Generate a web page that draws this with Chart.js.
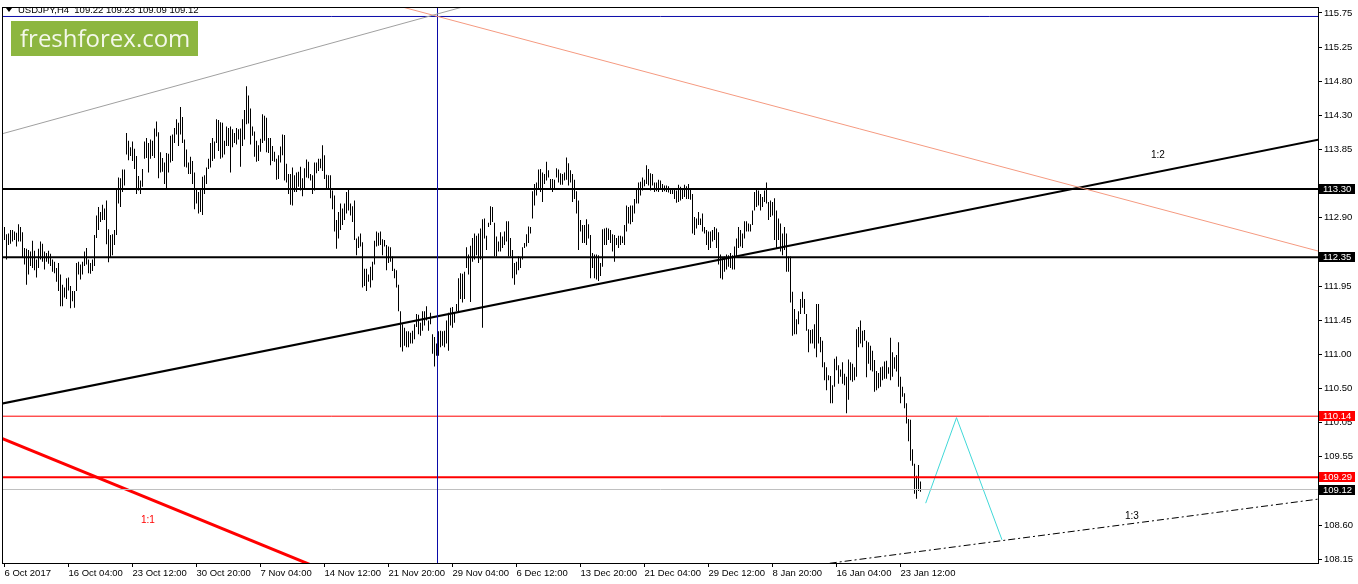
<!DOCTYPE html>
<html><head><meta charset="utf-8">
<script src="https://cdn.jsdelivr.net/npm/chart.js@4.4.1/dist/chart.umd.min.js"></script>
<style>html,body{margin:0;padding:0;background:#fff;overflow:hidden}#wrap{width:1358px;height:584px;position:relative}</style>
</head><body><div id="wrap"><canvas id="c" width="1358" height="584"></canvas></div>
<script>
// ---- bar highs (H4, index 0 = first bar) ----
const highs = [
112.77,112.67,112.68,112.73,112.73,112.71,112.69,112.81,112.77,112.70,
112.48,112.47,112.45,112.43,112.58,112.44,112.32,112.47,112.57,112.54,
112.43,112.41,112.44,112.40,112.32,112.29,112.20,112.27,112.11,111.97,
111.93,112.06,112.07,111.95,111.88,111.88,112.27,112.29,112.25,112.29,
112.43,112.48,112.32,112.27,112.32,112.66,112.93,113.05,112.98,113.08,
113.03,113.14,112.74,112.66,112.67,112.73,113.30,113.46,113.45,113.57,
113.57,114.08,113.97,113.88,113.96,113.86,113.76,113.48,113.42,113.58,
113.96,114.01,113.94,113.99,113.97,114.14,114.24,114.09,113.81,113.73,
113.67,113.80,113.79,114.04,114.06,114.15,114.27,114.22,114.44,114.30,
113.99,113.85,113.67,113.75,113.69,113.53,113.30,113.26,113.29,113.47,
113.49,113.60,113.72,113.94,114.01,113.96,114.27,114.26,114.23,114.22,
113.97,114.17,114.15,114.17,114.13,114.08,114.15,114.13,114.14,114.27,
114.40,114.73,114.60,114.42,114.17,114.10,113.97,113.91,114.00,114.34,
114.32,114.29,114.01,114.01,113.90,113.82,113.72,113.77,113.89,114.06,
114.05,113.65,113.51,113.51,113.60,113.49,113.53,113.54,113.61,113.45,
113.59,113.71,113.68,113.51,113.49,113.67,113.67,113.72,113.72,113.91,
113.77,113.50,113.49,113.49,113.28,113.21,112.87,112.98,113.10,113.03,
113.10,113.26,113.30,113.10,113.06,113.14,112.61,112.64,112.68,112.56,
112.19,112.19,112.11,112.22,112.29,112.58,112.71,112.69,112.71,112.60,
112.59,112.52,112.50,112.49,112.36,112.19,112.17,111.97,111.60,111.42,
111.37,111.32,111.32,111.30,111.33,111.42,111.56,111.55,111.44,111.60,
111.60,111.67,111.47,111.58,111.28,111.24,111.15,111.32,111.33,111.32,
111.33,111.47,111.58,111.65,111.66,111.58,111.70,112.06,112.13,112.12,
112.15,112.49,112.39,112.51,112.62,112.68,112.65,112.68,112.75,112.88,
112.89,112.65,112.83,113.06,113.05,112.83,112.64,112.57,112.70,112.64,
112.71,112.85,112.85,112.62,112.45,112.27,112.29,112.36,112.34,112.49,
112.55,112.67,112.78,112.77,113.27,113.37,113.39,113.57,113.58,113.53,
113.51,113.68,113.56,113.44,113.44,113.43,113.59,113.57,113.52,113.51,
113.53,113.74,113.66,113.56,113.51,113.43,113.27,113.14,112.87,112.80,
112.80,112.88,112.81,112.66,112.41,112.39,112.39,112.38,112.27,112.74,
112.75,112.76,112.75,112.73,112.67,112.66,112.62,112.65,112.65,112.64,
112.80,113.07,113.05,113.07,113.07,113.16,113.29,113.39,113.40,113.46,
113.43,113.63,113.58,113.52,113.51,113.39,113.39,113.43,113.42,113.37,
113.35,113.35,113.34,113.31,113.31,113.30,113.28,113.36,113.33,113.31,
113.36,113.34,113.37,113.30,113.23,112.91,112.89,112.98,112.89,112.96,
112.77,112.73,112.71,112.71,112.73,112.77,112.75,112.70,112.39,112.34,
112.36,112.39,112.38,112.41,112.38,112.50,112.61,112.77,112.73,112.68,
112.85,112.85,112.82,112.81,113.00,113.26,113.30,113.28,113.23,113.19,
113.28,113.39,113.12,113.14,113.12,113.17,113.00,112.89,112.82,112.68,
112.77,112.68,112.36,112.36,111.87,111.63,111.49,111.60,111.77,111.87,
111.77,111.56,111.35,111.34,111.35,111.42,111.70,111.70,111.24,111.19,
110.89,110.82,110.71,110.70,110.57,110.94,110.97,110.85,110.79,110.89,
110.73,110.69,110.93,110.89,110.87,110.82,111.35,111.38,111.47,111.33,
111.34,111.19,111.17,111.12,111.05,110.92,110.77,110.74,110.82,110.83,
110.90,110.91,110.82,111.23,111.03,110.96,110.99,111.17,110.69,110.55,
110.46,110.32,110.10,110.09,109.68,109.48,109.31,109.46,109.23
];
// ---- bar lows ----
const lows = [
112.59,112.32,112.52,112.54,112.57,112.59,112.50,112.57,112.57,112.34,
112.25,111.97,112.11,112.23,112.20,112.17,112.07,112.20,112.32,112.29,
112.18,112.29,112.26,112.23,112.15,112.13,112.01,111.88,111.67,111.67,
111.79,111.77,111.89,111.64,111.74,111.65,111.88,112.11,112.04,112.11,
112.23,112.25,112.13,112.12,112.16,112.23,112.62,112.73,112.84,112.87,
112.87,112.53,112.28,112.34,112.38,112.52,112.66,113.10,113.05,113.26,
113.35,113.78,113.70,113.76,113.69,113.58,113.23,113.28,113.23,113.33,
113.72,113.73,113.53,113.72,113.76,113.73,114.03,113.45,113.53,113.54,
113.37,113.31,113.53,113.67,113.69,113.94,114.06,113.90,114.06,113.94,
113.61,113.60,113.51,113.51,113.37,113.02,113.10,112.96,112.98,112.94,
113.23,113.37,113.58,113.60,113.69,113.72,113.94,113.83,113.72,113.74,
113.78,113.90,113.90,113.53,113.88,113.94,113.92,113.99,113.61,113.90,
113.99,114.20,114.21,113.92,114.04,113.75,113.68,113.69,113.82,113.94,
113.97,113.81,113.80,113.63,113.69,113.68,113.43,113.44,113.67,113.77,
113.42,113.39,113.23,113.08,113.07,113.26,113.26,113.33,113.28,113.20,
113.30,113.46,113.45,113.42,113.23,113.28,113.52,113.55,113.59,113.55,
113.44,113.30,113.30,113.17,113.02,112.71,112.47,112.61,112.73,112.80,
112.87,112.96,113.00,112.93,112.84,112.59,112.38,112.48,112.50,111.93,
111.95,111.88,112.01,111.93,112.03,112.25,112.50,112.51,112.52,112.38,
112.50,112.17,112.27,112.29,112.16,112.06,111.93,111.60,111.10,111.04,
111.12,111.10,111.10,111.15,111.15,111.21,111.38,111.28,111.26,111.33,
111.40,111.47,111.33,111.42,111.01,110.83,110.98,110.98,111.10,111.12,
111.10,111.15,111.05,111.40,111.37,111.44,111.60,111.58,111.77,111.72,
111.77,112.20,112.11,111.73,112.29,112.32,112.38,112.27,112.32,111.37,
112.61,112.45,112.77,112.80,112.84,112.36,112.36,112.43,112.43,112.48,
112.52,112.57,112.36,112.36,112.06,111.97,112.11,112.17,112.20,112.32,
112.48,112.50,112.55,112.68,112.89,113.07,113.21,113.31,113.26,113.12,
113.37,113.42,113.46,113.31,113.26,113.30,113.46,113.39,113.36,113.36,
113.42,113.43,113.35,113.39,113.12,113.16,112.96,112.45,112.71,112.55,
112.55,112.52,112.61,112.06,112.20,112.06,112.04,112.02,112.09,112.22,
112.52,112.52,112.59,112.55,112.43,112.29,112.52,112.48,112.52,112.55,
112.52,112.71,112.82,112.81,112.84,112.96,113.10,113.10,113.21,113.28,
113.34,113.37,113.35,113.28,113.35,113.26,113.27,113.26,113.30,113.26,
113.27,113.26,113.25,113.23,113.23,113.16,113.11,113.12,113.14,113.16,
113.19,113.16,113.16,113.15,112.68,112.66,112.75,112.80,112.80,112.71,
112.68,112.52,112.45,112.48,112.57,112.59,112.48,112.25,112.06,112.04,
112.15,112.18,112.22,112.20,112.18,112.18,112.34,112.48,112.50,112.48,
112.61,112.71,112.71,112.71,112.80,113.00,113.05,113.07,113.00,113.05,
113.12,113.10,112.87,112.91,112.93,112.59,112.48,112.59,112.43,112.38,
112.45,112.15,112.15,111.72,111.26,111.28,111.28,111.42,111.56,111.65,
111.56,111.33,111.03,111.15,111.15,111.08,110.96,111.15,111.03,110.82,
110.64,110.50,110.64,110.32,110.32,110.55,110.78,110.59,110.69,110.59,
110.57,110.18,110.37,110.64,110.62,110.64,110.69,111.10,111.15,111.10,
111.19,110.68,110.87,110.78,110.76,110.48,110.50,110.53,110.55,110.64,
110.66,110.66,110.73,110.64,110.69,110.80,110.76,110.55,110.32,110.41,
110.25,110.04,109.79,109.52,109.45,109.06,108.99,109.10,109.09
];
// ---- axis ticks ----
const xTickIndex = [0,32,64,96,128,160,192,224,256,288,320,352,384,416,448];
const xTickLabels = ['6 Oct 2017','16 Oct 04:00','23 Oct 12:00','30 Oct 20:00','7 Nov 04:00','14 Nov 12:00','21 Nov 20:00','29 Nov 04:00','6 Dec 12:00','13 Dec 20:00','21 Dec 04:00','29 Dec 12:00','8 Jan 20:00','16 Jan 04:00','23 Jan 12:00'];
const yTickValues = [115.75,115.275,114.80,114.325,113.85,112.90,111.95,111.475,111.00,110.525,110.05,109.575,108.625,108.15];
const yTickLabels = ['115.75','115.25','114.80','114.30','113.85','112.90','111.95','111.45','111.00','110.50','110.05','109.55','108.60','108.15'];
const yMin = 108.098, yMax = 115.822;
const xMin = -0.75, xMax = 656.75;
// ---- horizontal levels ----
const levelBlack = [113.30, 112.35];
const levelRedThin = 110.14;
const levelRedThick = 109.29;
const bidLevel = 109.12;
const blueLevel = 115.70;
const blueVerticalIdx = 216.5;
// ---- trend lines [barIndex, price] ----
const grayLine = [[-2.25,114.06],[232.75,115.86]];
const salmonLine = [[197.75,115.84],[657.75,112.43]];
const blackTrend = [[-2.25,110.31],[657.75,113.99]];
const redTrend = [[-2.25,109.84],[157.75,108.02]];
const dashTrend = [[397.75,108.04],[657.75,108.99]];
const cyanPath = [[460.6,108.93],[476.0,110.12],[498.75,108.42]];
// ---- text notes ----
const noteTexts = ['1:2','1:3','1:1'];
const noteIdx = [573.25,560.25,68.25];
const notePrice = [113.77,108.745,108.69];
// ---- right price tags ----
const tagValues = [113.30,112.35,110.14,109.29,109.12];
const tagLabels = ['113.30','112.35','110.14','109.29','109.12'];
const header = 'USDJPY,H4  109.22 109.23 109.09 109.12';

const FONT = 'Liberation Sans, Arial, sans-serif';
const FS = 9.5;
const pts = a => a.map(p => ({x:p[0], y:p[1]}));
const hline = v => [{x:xMin-2,y:v},{x:xMax+2,y:v}];
function lineDs(data, color, width, extra){
  return Object.assign({type:'line', data, borderColor:color, borderWidth:width, pointRadius:0, fill:false, tension:0, clip:0, order:1}, extra||{});
}
const datasets = [
  lineDs(pts(grayLine), '#a0a0a0', 1),
  lineDs(pts(salmonLine), '#f59a80', 1),
  lineDs(hline(blueLevel), '#0a0aa8', 1),
  lineDs([{x:blueVerticalIdx,y:yMin-1},{x:blueVerticalIdx,y:yMax+1}], '#0a0aa8', 1),
  lineDs(hline(bidLevel), '#c0c0c0', 1),
  lineDs(hline(levelBlack[0]), '#000', 2),
  lineDs(hline(levelBlack[1]), '#000', 2),
  lineDs(hline(levelRedThin), '#ff0000', 1),
  lineDs(hline(levelRedThick), '#ff0000', 2),
  lineDs(pts(blackTrend), '#000', 2),
  lineDs(pts(redTrend), '#ff0000', 3),
  lineDs(pts(dashTrend), '#000', 1, {borderDash:[7,3,2,3]}),
  lineDs(pts(cyanPath), '#40d8d8', 1),
  {type:'bar', data: highs.map((h,i)=>({x:i, y:[lows[i], h]})), backgroundColor:'#000', borderWidth:0, barThickness:1, inflateAmount:0, order:10}
];

const overlay = {
  id:'overlay',
  afterDraw(chart){
    const {ctx, chartArea:a, scales:{x, y}} = chart;
    ctx.save();
    // frame
    ctx.strokeStyle = '#000'; ctx.lineWidth = 1;
    ctx.strokeRect(Math.round(a.left)-0.5, Math.round(a.top)-0.5, Math.round(a.right-a.left)+1, Math.round(a.bottom-a.top)+1);
    // header
    ctx.fillStyle = '#000';
    ctx.beginPath(); ctx.moveTo(6,8); ctx.lineTo(12,8); ctx.lineTo(9,12); ctx.closePath(); ctx.fill();
    ctx.font = FS + 'px ' + FONT; ctx.textBaseline = 'middle'; ctx.textAlign = 'left';
    ctx.fillText(header, 18, 10.5);
    // logo
    ctx.fillStyle = '#8db640';
    ctx.fillRect(11, 21, 187, 35);
    ctx.fillStyle = '#f4f8ea';
    ctx.font = '24px "Open Sans"'; ctx.textBaseline = 'alphabetic';
    ctx.fillText('freshforex.com', 20, 47);
    // notes
    ctx.font = '10px ' + FONT; ctx.textBaseline = 'middle';
    noteTexts.forEach((t,i)=>{
      ctx.fillStyle = t === '1:1' ? '#ff0000' : '#000';
      ctx.fillText(t, x.getPixelForValue(noteIdx[i]), y.getPixelForValue(notePrice[i]));
    });
    // price tags
    ctx.font = FS + 'px ' + FONT;
    tagValues.forEach((v,i)=>{
      const py = Math.round(y.getPixelForValue(v));
      ctx.fillStyle = (v === 110.14 || v === 109.29) ? '#ff0000' : '#000';
      ctx.fillRect(a.right+1, py-5, 36, 10);
      ctx.fillStyle = '#fff';
      ctx.fillText(tagLabels[i], a.right+5, py+0.5);
    });
    ctx.restore();
  }
};

new Chart(document.getElementById('c').getContext('2d'), {
  type:'bar',
  data:{datasets},
  options:{
    responsive:false, animation:false, events:[],
    layout:{padding:{left:3, top:2, right:0, bottom:0}},
    plugins:{legend:{display:false}, tooltip:{enabled:false}},
    scales:{
      x:{type:'linear', min:xMin, max:xMax, offset:false,
         afterBuildTicks(s){ s.ticks = xTickIndex.map(v=>({value:v})); },
         afterFit(s){ s.height = 21; },
         grid:{offset:false, drawOnChartArea:false, drawTicks:true, tickLength:4, color:'#000'},
         border:{display:true, color:'#000'},
         ticks:{autoSkip:false, maxRotation:0, minRotation:0, align:'start', padding:1, color:'#000', font:{family:FONT, size:FS},
                callback:(v,i)=>xTickLabels[i]}},
      y:{type:'linear', position:'right', min:yMin, max:yMax, beginAtZero:false,
         afterBuildTicks(s){ s.ticks = yTickValues.map(v=>({value:v})); },
         afterFit(s){ s.width = 40; },
         grid:{drawOnChartArea:false, drawTicks:true, tickLength:4, color:'#000'},
         border:{display:true, color:'#000'},
         ticks:{padding:2, color:'#000', font:{family:FONT, size:FS}, callback:(v,i)=>yTickLabels[i]}}
    }
  },
  plugins:[overlay]
});
</script></body></html>
